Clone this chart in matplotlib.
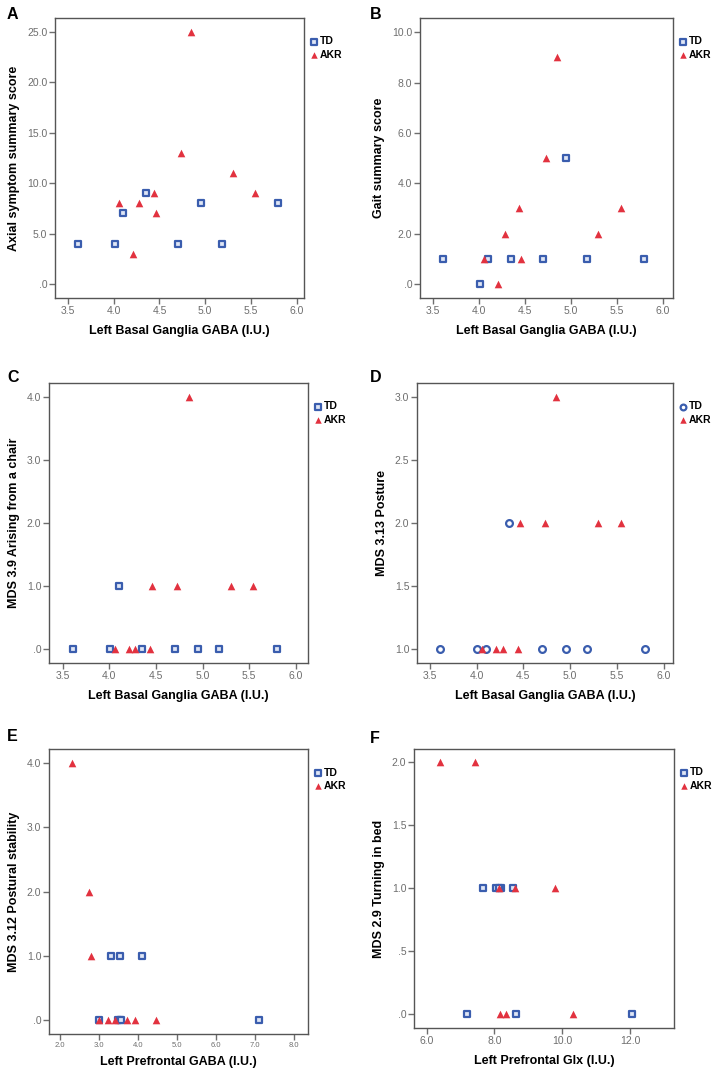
import matplotlib.pyplot as plt
from matplotlib.ticker import FuncFormatter

plt.rcParams["font.family"] = ["Liberation Sans", "DejaVu Sans"]

# ------------------------------------------------------------------
# Data
# ------------------------------------------------------------------

# left basal ganglia GABA, shared by panels A-D
bg_td_x = [3.61, 4.01, 4.10, 4.35, 4.70, 4.95, 5.18, 5.80]
bg_akr_x = [4.06, 4.21, 4.28, 4.44, 4.46, 4.73, 4.85, 5.30, 5.54]

axial_td = [4, 4, 7, 9, 4, 8, 4, 8]
axial_akr = [8, 3, 8, 9, 7, 13, 25, 11, 9]

gait_td = [1, 0, 1, 1, 1, 5, 1, 1]
gait_akr = [1, 0, 2, 3, 1, 5, 9, 2, 3]

chair_td = [0, 0, 1, 0, 0, 0, 0, 0]
chair_akr = [0, 0, 0, 0, 1, 1, 4, 1, 1]

posture_td = [1, 1, 1, 2, 1, 1, 1, 1]
posture_akr = [1, 1, 1, 1, 2, 2, 3, 2, 2]

# left prefrontal GABA (panel E)
pf_td_x = [3.00, 3.30, 3.54, 4.11, 3.50, 3.53, 3.57, 7.12]
stab_td = [0, 1, 1, 1, 0, 0, 0, 0]
pf_akr_x = [2.30, 2.74, 2.80, 3.00, 3.22, 3.40, 3.72, 3.92, 4.47]
stab_akr = [4, 2, 1, 0, 0, 0, 0, 0, 0]

# left prefrontal Glx (panel F)
glx_td_x = [7.67, 8.05, 8.20, 8.56, 7.18, 8.65, 12.05, 8.12]
bed_td = [1, 1, 1, 1, 0, 0, 0, 1]
glx_akr_x = [6.39, 7.43, 8.14, 8.61, 9.79, 8.15, 8.34, 10.32]
bed_akr = [2, 2, 1, 1, 1, 0, 0, 0]

BLUE = "#3a5dae"
RED = "#e2323f"
GREY = "#555555"
TICKGREY = "#6e6e6e"


def spss_fmt(v, pos):
    s = f"{v:.1f}"
    if s.startswith("0."):
        s = s[1:]
    return s


def panel(rect, letter, xs, ys, ylabel, xlabel, xlim, ylim, xticks, yticks,
          circle=False, small_xt=False, letter_xy=None, xlab_pad=7):
    ax = fig.add_axes(rect)
    td_x, akr_x = xs
    td_y, akr_y = ys
    if circle:
        ax.scatter(td_x, td_y, marker="o", s=24, facecolor="white",
                   edgecolor=BLUE, linewidth=1.6, zorder=3, label="TD")
    else:
        ax.scatter(td_x, td_y, marker="s", s=20, facecolor="#dfe6f5",
                   edgecolor=BLUE, linewidth=1.6, zorder=3, label="TD")
    ax.scatter(akr_x, akr_y, marker="^", s=30, color=RED, linewidth=0,
               zorder=4, label="AKR")
    ax.set_xlim(*xlim)
    ax.set_ylim(*ylim)
    ax.set_xticks(xticks)
    ax.set_yticks(yticks)
    ax.xaxis.set_major_formatter(FuncFormatter(spss_fmt))
    ax.yaxis.set_major_formatter(FuncFormatter(spss_fmt))
    for sp in ax.spines.values():
        sp.set_color(GREY)
        sp.set_linewidth(1.0)
    ax.tick_params(axis="both", direction="out", length=4, width=1.0,
                   color=TICKGREY, labelcolor=TICKGREY, labelsize=7.5, pad=1.5)
    if small_xt:
        ax.tick_params(axis="x", labelsize=5.5)
    ax.set_xlabel(xlabel, fontsize=9, fontweight="bold", labelpad=xlab_pad)
    ax.set_ylabel(ylabel, fontsize=9, fontweight="bold", labelpad=5)
    ax.legend(loc="upper left", bbox_to_anchor=(1.0, 0.96), frameon=False,
              handlelength=0.5, handletextpad=0.3, labelspacing=0.3,
              borderaxespad=0.3, markerscale=0.85,
              prop={"weight": "bold", "size": 7.5})
    fig.text(letter_xy[0], letter_xy[1], letter, fontsize=11.5, fontweight="bold",
             ha="left", va="top")
    return ax


fig = plt.figure(figsize=(7.14, 10.72), dpi=100)
W, H = 714.0, 1072.0


def rect(l, t, r, b):
    return [l / W, 1 - b / H, (r - l) / W, (b - t) / H]


bg_label = "Left Basal Ganglia GABA (I.U.)"
bg_ticks = [3.5, 4.0, 4.5, 5.0, 5.5, 6.0]

panel(rect(55, 18, 304, 298), "A", (bg_td_x, bg_akr_x), (axial_td, axial_akr),
      "Axial symptom summary score", bg_label, (3.358, 6.08), (-1.39, 26.39),
      bg_ticks, [0, 5, 10, 15, 20, 25], letter_xy=(7 / W, 1 - 7 / H))

panel(rect(420, 18, 673, 298), "B", (bg_td_x, bg_akr_x), (gait_td, gait_akr),
      "Gait summary score", bg_label, (3.362, 6.11), (-0.56, 10.57),
      bg_ticks, [0, 2, 4, 6, 8, 10], letter_xy=(370 / W, 1 - 7 / H))

panel(rect(49, 383, 308, 663), "C", (bg_td_x, bg_akr_x), (chair_td, chair_akr),
      "MDS 3.9 Arising from a chair", bg_label, (3.353, 6.13), (-0.228, 4.228),
      bg_ticks, [0, 1, 2, 3, 4], letter_xy=(7 / W, 1 - 370 / H))

panel(rect(417, 383, 673, 663), "D", (bg_td_x, bg_akr_x), (posture_td, posture_akr),
      "MDS 3.13 Posture", bg_label, (3.365, 6.096), (0.886, 3.114),
      bg_ticks, [1.0, 1.5, 2.0, 2.5, 3.0], circle=True,
      letter_xy=(370 / W, 1 - 370 / H))

panel(rect(49, 749, 308, 1034), "E", (pf_td_x, pf_akr_x), (stab_td, stab_akr),
      "MDS 3.12 Postural stability", "Left Prefrontal GABA (I.U.)",
      (1.717, 8.37), (-0.218, 4.218), [2, 3, 4, 5, 6, 7, 8], [0, 1, 2, 3, 4],
      small_xt=True, letter_xy=(7 / W, 1 - 729 / H), xlab_pad=5)

panel(rect(414, 749, 674, 1028), "F", (glx_td_x, glx_akr_x), (bed_td, bed_akr),
      "MDS 2.9 Turning in bed", "Left Prefrontal Glx (I.U.)",
      (5.625, 13.30), (-0.112, 2.106), [6, 8, 10, 12], [0, 0.5, 1.0, 1.5, 2.0],
      letter_xy=(370 / W, 1 - 731 / H), xlab_pad=7)

fig.savefig("out.png", dpi=100)
